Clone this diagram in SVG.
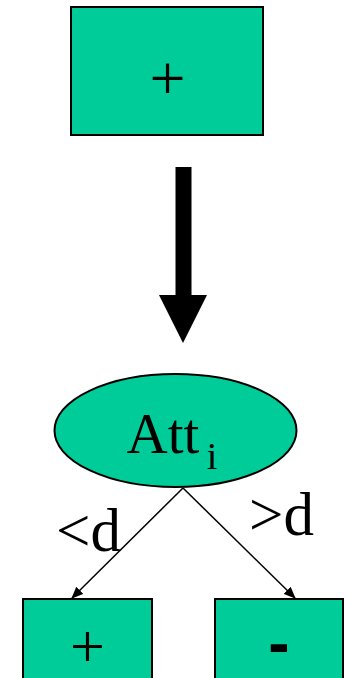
<svg xmlns="http://www.w3.org/2000/svg" width="346" height="678" viewBox="0 0 346 678">
<style>
.node{fill:#00CC99;stroke:#000;stroke-width:2}
.t{font-family:"Liberation Serif","Times New Roman",serif;fill:#000;text-anchor:middle}
.edge{stroke:#000;stroke-width:1.5;fill:none}
</style>
<defs>
<marker id="ah" markerWidth="12" markerHeight="10" refX="11" refY="5" orient="auto" markerUnits="userSpaceOnUse">
<path d="M0,0 L12,5 L0,10 Z" fill="#000"/>
</marker>
</defs>
<rect width="346" height="678" fill="#fff"/>
<g id="top">
<rect class="node" x="71" y="7" width="192" height="128"/>
<text class="t" x="167.5" y="99.5" font-size="64">+</text>
</g>
<g id="bigarrow">
<rect x="175.5" y="167" width="16" height="129" fill="#000"/>
<polygon points="159,295 207,295 183,343" fill="#000"/>
</g>
<g id="att">
<ellipse class="node" cx="175.5" cy="430.5" rx="121" ry="56.5" stroke-width="1.5"/>
<text class="t" x="163" y="453" font-size="57">Att</text>
<text class="t" x="212" y="469" font-size="38">i</text>
</g>
<g id="connectors">
<line class="edge" x1="183" y1="488" x2="72" y2="598" marker-end="url(#ah)"/>
<line class="edge" x1="183" y1="488" x2="295" y2="598" marker-end="url(#ah)"/>
<text class="t" x="88.5" y="551" font-size="61">&lt;d</text>
<text class="t" x="281.5" y="535" font-size="61">&gt;d</text>
</g>
<g id="left">
<rect class="node" x="23" y="599" width="129" height="90" stroke-width="1.5"/>
<text class="t" x="87.5" y="667" font-size="62">+</text>
</g>
<g id="right">
<rect class="node" x="215" y="599" width="128" height="90" stroke-width="1.5"/>
<text x="279" y="665" font-size="64" font-weight="bold" font-family="Liberation Sans, Arial, sans-serif" text-anchor="middle">-</text>
</g>
</svg>
